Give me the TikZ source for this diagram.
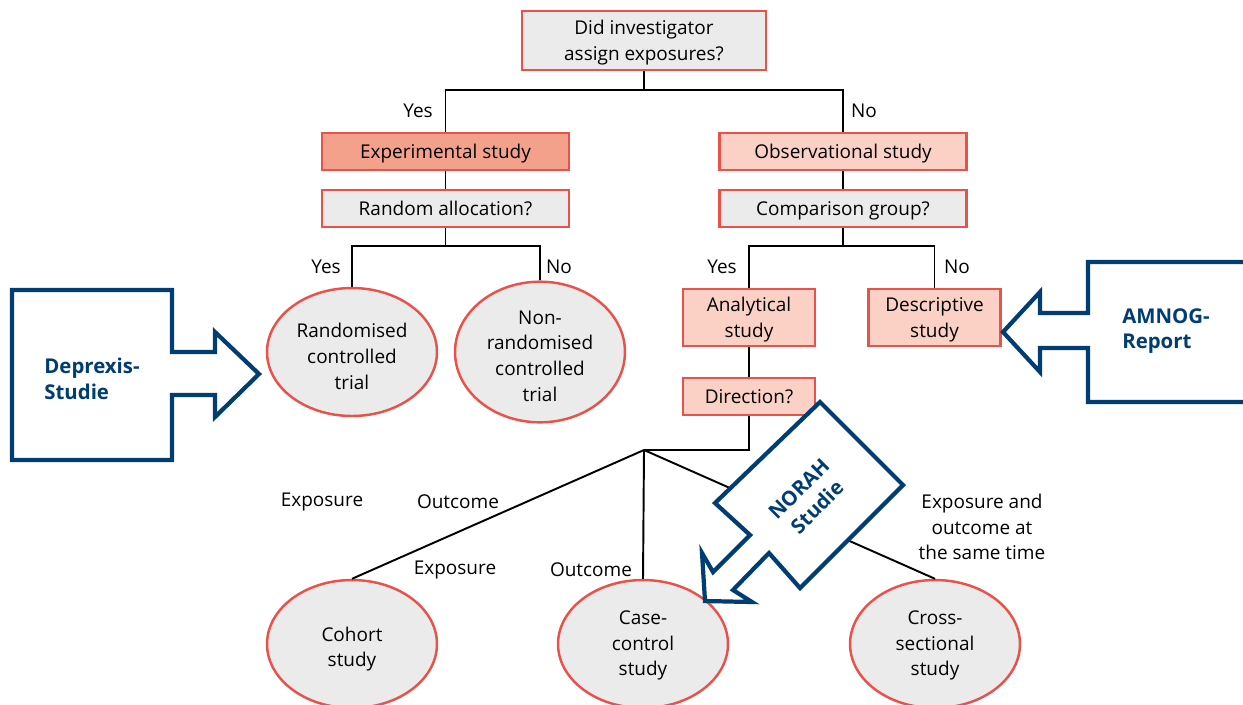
\documentclass[tikz,border=0pt]{standalone}
\usepackage{fontspec}
\setmainfont{Open Sans}
\usepackage{xcolor}
\usetikzlibrary{shapes,positioning}
\definecolor{boxred}{HTML}{E8524A}
\definecolor{boxgray}{HTML}{EBEBEB}
\definecolor{expfill}{HTML}{F4A18C}
\definecolor{obsfill}{HTML}{FBD0C5}
\definecolor{navy}{HTML}{003D73}

\begin{document}
\begin{tikzpicture}[x=0.02cm,y=-0.02cm,line width=1.1pt,
  every node/.style={align=center,inner sep=0pt,font=\fontsize{10.8}{14.7}\selectfont},
  box/.style={draw=boxred,line width=1.4pt,rectangle,fill=boxgray,minimum width=4.94cm,minimum height=0.74cm,
    text depth=-1.8pt},
  smallbox/.style={box,fill=obsfill,minimum width=2.64cm},
  oval/.style={draw=boxred,line width=1.4pt,ellipse,fill=boxgray,minimum width=3.4cm,minimum height=2.56cm},
  textdrop/.style={execute at begin node={\rule{0pt}{#1}}},
  bluearrow/.style={draw=navy,line width=2.4pt,fill=white},
  bluetext/.style={text=navy,font=\fontsize{11.6}{14.7}\selectfont\bfseries}]
\useasboundingbox (0,0) rectangle (1243,704);

% questions and study types
\node[box,minimum width=4.88cm,minimum height=1.18cm] (assign) at (644,40.5) {Did investigator\\assign exposures?};
\node[box,fill=expfill] (exp) at (445.5,151.5) {Experimental study};
\node[box] (random) at (445.5,208.5) {Random allocation?};
\node[box,fill=obsfill] (obs) at (843,151.5) {Observational study};
\node[box] (compare) at (843,208.5) {Comparison group?};
\node[smallbox,minimum height=1.14cm] (analytic) at (749,317.5) {Analytical\\study};
\node[smallbox,minimum height=1.14cm] (descript) at (934.5,317.5) {Descriptive\\study};
\node[smallbox] (direction) at (749,396.5) {Direction?};

\node[oval,textdrop=42.7pt] (rct) at (352,352) {Randomised\\controlled\\trial};
\node[oval,textdrop=56.5pt] (nrct) at (540,352) {Non-\\randomised\\controlled\\trial};
\node[oval,textdrop=28.6pt] (cohort) at (352,644) {Cohort\\study};
\node[oval,textdrop=39pt] (casecon) at (643,644) {Case-\\control\\study};
\node[oval,textdrop=39pt] (cross) at (935,644) {Cross-\\sectional\\study};

% connectors
\draw (assign.south) -- ++(0,19) coordinate (j1);
\draw (exp.north) |- (j1) -| (obs.north);
\draw (exp) -- (random);
\draw (random.south) -- ++(0,18) coordinate (j2);
\draw (rct.north) |- (j2) -| (nrct.north);
\draw (obs) -- (compare);
\draw (compare.south) -- ++(0,18) coordinate (j3);
\draw (analytic.north) |- (j3) -| (descript.north);
\draw (analytic) -- (direction);
\coordinate (split) at (644,450);
\draw (direction.south) |- (split);
\draw (split) -- (cohort.north)
      (split) -- (casecon.north)
      (split) -- (cross.north);

% labels
\node (yes1) at (418,111) {Yes};
\node (no1) at (864,111) {No};
\node (yes2) at (326,267) {Yes};
\node (no2) at (559,267) {No};
\node (yes3) at (722,267) {Yes};
\node (no3) at (957,267) {No};
\node (exp1) at (322,502) {Exposure};
\node (out1) at (458,502) {Outcome};
\node (exp2) at (455,570) {Exposure};
\node (out2) at (591,570) {Outcome};
\node (same) at (982,527) {Exposure and\\outcome at\\the same time};

% studies pointing in
\draw[bluearrow] (12,290) -- (172,290) -- (172,352) -- (215,352) -- (215,332) -- (259,374)
  -- (215,417) -- (215,395) -- (172,395) -- (172,460) -- (12,460) -- cycle;
\node[bluetext,align=left] (deprexis) at (92,379) {Deprexis-\\Studie};

\draw[bluearrow] (1260,262) -- (1088,262) -- (1088,313) -- (1040,313) -- (1040,292) -- (1003,332)
  -- (1040,372) -- (1040,348) -- (1088,348) -- (1088,402) -- (1260,402) -- cycle;
\node[bluetext,align=left] (amnog) at (1166,331) {AMNOG-\\Report};

\draw[bluearrow] (820,402) -- (903,485) -- (800,588) -- (769,553) -- (733,590) -- (752,602)
  -- (705,601) -- (702,553) -- (713,572) -- (750,535) -- (715,503) -- cycle;
\node[bluetext,rotate=45] (norah) at (808,498) {NORAH\\Studie};

\end{tikzpicture}
\end{document}
